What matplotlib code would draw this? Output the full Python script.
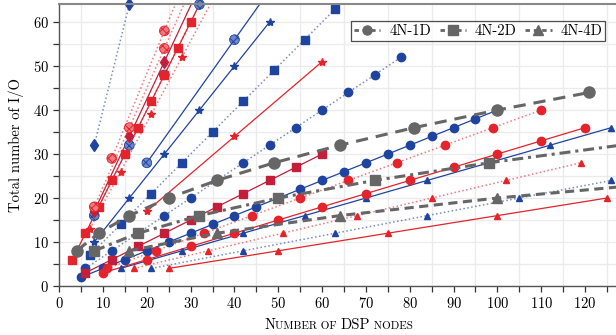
import matplotlib
matplotlib.use("Agg")
import matplotlib.pyplot as plt
import numpy as np
from matplotlib.lines import Line2D
from matplotlib.offsetbox import AnchoredOffsetbox, HPacker, TextArea
from matplotlib.ticker import MultipleLocator

plt.rcParams.update({
    "font.family": "serif",
    "font.serif": ["cmr10", "DejaVu Serif"],
    "mathtext.fontset": "cm",
    "axes.formatter.use_mathtext": True,
    "font.size": 10,
    "hatch.linewidth": 0.7,
})

XMAX, YMAX = 127.5, 64

# gray reference topologies (legend entries)
x_4n1d = [4, 9, 16, 25, 36, 49, 64, 81, 100, 121]
y_4n1d = [8, 12, 16, 20, 24, 28, 32, 36, 40, 44]
x_4n2d = [8, 18, 32, 50, 72, 98, 128]
y_4n2d = [8, 12, 16, 20, 24, 28, 32]
x_4n4d = [16, 36, 64, 100, 144]
y_4n4d = [8, 12, 16, 20, 24]

# blue series
x_b_dia = [8, 16]
y_b_dia = [32, 64]
x_b_hatch_a = [8, 16, 24, 32]
y_b_hatch_a = [16, 32, 48, 64]
x_b_hatch_b = [20, 40, 60]
y_b_hatch_b = [28, 56, 84]
x_b_star = [8, 16, 24, 32, 40, 48]
y_b_star = [10, 20, 30, 40, 50, 60]
x_b_sq = [7, 14, 21, 28, 35, 42, 49, 56, 63]
y_b_sq = [7, 14, 21, 28, 35, 42, 49, 56, 63]
x_b_circ_dot = [6, 12, 18, 24, 30, 36, 42, 48, 54, 60, 66, 72, 78]
y_b_circ_dot = [4, 8, 12, 16, 20, 24, 28, 32, 36, 40, 44, 48, 52]
x_b_circ = [5, 10, 15, 20, 25, 30, 35, 40, 45, 50, 55, 60, 65, 70, 75, 80, 85, 90, 95, 100]
y_b_circ = [2, 4, 6, 8, 10, 12, 14, 16, 18, 20, 22, 24, 26, 28, 30, 32, 34, 36, 38, 40]
x_b_tri = [14, 28, 42, 56, 70, 84, 98, 112, 126]
y_b_tri = [4, 8, 12, 16, 20, 24, 28, 32, 36]
x_b_tri_dot = [21, 42, 63, 84, 105, 126]
y_b_tri_dot = [4, 8, 12, 16, 20, 24]

# red series
x_r_sq_hi = [3, 6, 9, 12, 15, 18, 21, 24, 27, 30, 33]
y_r_sq_hi = [6, 12, 18, 24, 30, 36, 42, 48, 54, 60, 66]
x_r_sq_lo = [6, 12, 18, 24, 30, 36, 42, 48, 54, 60]
y_r_sq_lo = [3, 6, 9, 12, 15, 18, 21, 24, 27, 30]
x_r_dia = [8, 16, 24, 32]
y_r_dia = [17, 34, 51, 68]
x_r_hatch_a = [8, 16, 24, 32]
y_r_hatch_a = [18, 36, 54, 72]
x_r_hatch_b = [12, 24, 36]
y_r_hatch_b = [29, 58, 87]
x_r_star_dot = [7, 14, 21, 28, 35]
y_r_star_dot = [13, 26, 39, 52, 65]
x_r_star = [20, 40, 60]
y_r_star = [17, 34, 51]
x_r_circ = [10, 20, 30, 40, 50, 60, 70, 80, 90, 100, 110, 120]
y_r_circ = [3, 6, 9, 12, 15, 18, 21, 24, 27, 30, 33, 36]
x_r_circ_dot = [11, 22, 33, 44, 55, 66, 77, 88, 99, 110]
y_r_circ_dot = [4, 8, 12, 16, 20, 24, 28, 32, 36, 40]
x_r_tri = [25, 50, 75, 100, 125]
y_r_tri = [4, 8, 12, 16, 20]
x_r_tri_dot = [17, 34, 51, 68, 85, 102, 119]
y_r_tri_dot = [4, 8, 12, 16, 20, 24, 28]

BLUE = "#1f44a0"
BLUE_HATCH = "#7088c8"
RED = "#e4232b"
RED_HATCH = "#f07a7e"
CRIMSON = "#c41e3a"
GRAY = "#666666"
DOT = (0, (1, 1.6))


def series(ax, x, y, color, marker, ls, ms, hatch=None, lw=0.9, z=2):
    x = np.asarray(x, dtype=float)
    y = np.asarray(y, dtype=float)
    dotted = ls == DOT
    ax.plot(x, y, color=color, ls=ls, lw=1.1 if dotted else lw,
            alpha=0.6 if dotted else 1.0, zorder=z)
    keep = (x <= XMAX) & (y <= YMAX)
    if hatch:
        ax.scatter(x[keep], y[keep], s=ms ** 2, marker="o", facecolor=hatch, edgecolor=color,
                   hatch="xxxx", linewidth=0.6, zorder=z + 0.5, clip_on=False)
    else:
        ax.plot(x[keep], y[keep], ls="none", marker=marker, ms=ms, color=color,
                mec=color, zorder=z + 0.5, clip_on=False)


fig = plt.figure(figsize=(6.16, 3.35), dpi=100)
ax = fig.add_axes([0.0961, 0.1463, 0.907, 0.8403])

# blue
series(ax, x_b_dia, y_b_dia, BLUE, "d", DOT, 6)
series(ax, x_b_hatch_a, y_b_hatch_a, BLUE, "o", DOT, 7, hatch=BLUE_HATCH)
series(ax, x_b_hatch_b, y_b_hatch_b, BLUE, "o", "-", 7, hatch=BLUE_HATCH)
series(ax, x_b_star, y_b_star, BLUE, "*", "-", 6)
series(ax, x_b_sq, y_b_sq, BLUE, "s", DOT, 6)
series(ax, x_b_circ_dot, y_b_circ_dot, BLUE, "o", DOT, 6)
series(ax, x_b_circ, y_b_circ, BLUE, "o", "-", 6)
series(ax, x_b_tri, y_b_tri, BLUE, "^", "-", 5)
series(ax, x_b_tri_dot, y_b_tri_dot, BLUE, "^", DOT, 5)

# red
series(ax, x_r_sq_hi, y_r_sq_hi, RED, "s", "-", 6)
series(ax, x_r_sq_lo, y_r_sq_lo, CRIMSON, "s", "-", 6)
series(ax, x_r_dia, y_r_dia, CRIMSON, "d", "-", 6)
series(ax, x_r_hatch_a, y_r_hatch_a, RED, "o", DOT, 7, hatch=RED_HATCH)
series(ax, x_r_hatch_b, y_r_hatch_b, RED, "o", DOT, 7, hatch=RED_HATCH)
series(ax, x_r_star_dot, y_r_star_dot, RED, "*", DOT, 6)
series(ax, x_r_star, y_r_star, RED, "*", "-", 6)
series(ax, x_r_circ, y_r_circ, RED, "o", "-", 6)
series(ax, x_r_circ_dot, y_r_circ_dot, RED, "o", DOT, 6)
series(ax, x_r_tri, y_r_tri, RED, "^", "-", 5)
series(ax, x_r_tri_dot, y_r_tri_dot, RED, "^", DOT, 5)

# gray reference topologies
gray_specs = [
    (x_4n1d, y_4n1d, "o", (0, (4, 2.6)), 8, "4N-1D"),
    (x_4n2d, y_4n2d, "s", (0, (3.6, 1.6, 1, 1.6)), 7.5, "4N-2D"),
    (x_4n4d, y_4n4d, "^", (0, (3, 1.8)), 7.5, "4N-4D"),
]
handles = []
for x, y, m, ls, ms, lab in gray_specs:
    x = np.asarray(x, dtype=float)
    y = np.asarray(y, dtype=float)
    ax.plot(x, y, color=GRAY, ls=ls, lw=2.2, zorder=5)
    keep = (x <= XMAX) & (y <= YMAX)
    ax.plot(x[keep], y[keep], ls="none", marker=m, ms=ms, color=GRAY, zorder=6, clip_on=False)
    handles.append(Line2D([], [], color=GRAY, ls=(0, (1.6, 1.4)), lw=2.0, marker=m, ms=6.5))

ax.set_xlim(0, XMAX)
ax.set_ylim(0, YMAX)
ax.xaxis.set_major_locator(MultipleLocator(10))
ax.xaxis.set_minor_locator(MultipleLocator(5))
ax.yaxis.set_major_locator(MultipleLocator(10))
ax.yaxis.set_minor_locator(MultipleLocator(5))
ax.tick_params(which="both", direction="out", length=4, width=0.9, color="#333333", labelsize=10.5)
ax.grid(which="minor", axis="x", color="#ebebeb", lw=1.0, zorder=0)
ax.grid(which="both", axis="y", color="#ebebeb", lw=1.0, zorder=0)
ax.set_axisbelow(True)
for side in ["left", "bottom", "top", "right"]:
    ax.spines[side].set_color("#555555")
    ax.spines[side].set_linewidth(1.0)
ax.spines["top"].set_color("#888888")
ax.spines["top"].set_linewidth(1.5)

ax.set_ylabel("Total number of I/O", fontsize=10.5, labelpad=6)

big = dict(fontsize=10.5, family="serif")
small = dict(fontsize=8, family="serif")
parts = [("N", big), ("UMBER OF ", small), ("DSP", big), (" NODES", small)]
pack = HPacker(children=[TextArea(t, textprops=p) for t, p in parts], align="baseline", pad=0, sep=0)
anch = AnchoredOffsetbox(loc="upper center", child=pack, pad=0, frameon=False,
                         bbox_to_anchor=(0.5, -0.115), bbox_transform=ax.transAxes, borderpad=0)
ax.add_artist(anch)

leg = ax.legend(handles, ["4N-1D", "4N-2D", "4N-4D"], loc="upper right", ncol=3,
                bbox_to_anchor=(0.977, 0.94), frameon=True, fancybox=False, edgecolor="#222222",
                fontsize=10.5, handlelength=1.8, columnspacing=0.6, handletextpad=0.6,
                borderpad=0.2, borderaxespad=0)
leg.get_frame().set_linewidth(0.9)

fig.savefig("out.png", dpi=100)
